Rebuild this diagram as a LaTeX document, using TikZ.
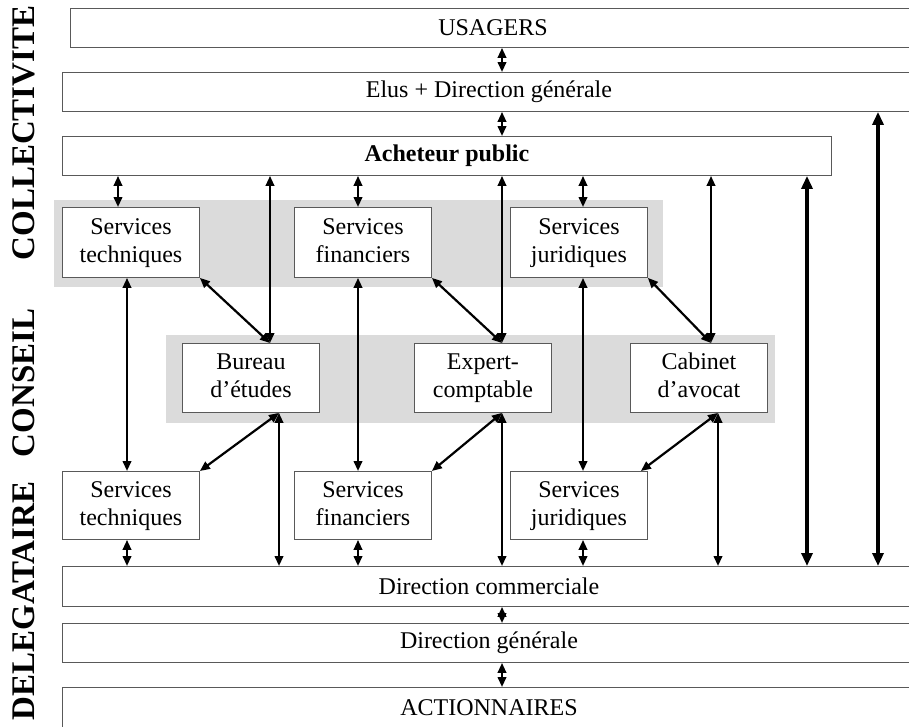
\documentclass[tikz,border=0pt]{standalone}
\usepackage{fontspec}
\setmainfont{Liberation Serif}
\usetikzlibrary{arrows.meta}
\newcommand{\twolines}[2]{\strut#1\\\strut#2}

\begin{document}
\begin{tikzpicture}[
  x=1pt, y=-1pt,
  band/.style={fill=black!14},
  bar/.style={rectangle, draw=black!65, line width=0.9pt, fill=white, anchor=north west, inner sep=0pt, text centered, font=\fontsize{24}{28}\selectfont},
  unit/.style={bar, align=center, minimum width=137pt},
  side/.style={rotate=90, inner sep=0pt, font=\fontsize{33}{33}\selectfont\bfseries},
  link/.style={line width=2.2pt, {Triangle[length=10pt,width=8.5pt]}-{Triangle[length=10pt,width=8.5pt]}},
  big/.style={line width=3.2pt, {Triangle[length=13pt,width=11pt]}-{Triangle[length=13pt,width=11pt]}}
]
  \useasboundingbox (0,0) rectangle (909,726);

  % grey bands
  \fill[band] (54,200) rectangle (663,287);
  \fill[band] (166,335) rectangle (775,423);

  % side titles
  \node[side] (lcoll) at (24,133) {COLLECTIVITE};
  \node[side] (lcons) at (24,383) {CONSEIL};
  \node[side] (ldele) at (24,601) {DELEGATAIRE};

  % full width bars
  \node[bar, minimum width=845pt, minimum height=39pt] (usagers) at (70,8) {USAGERS};
  \node[bar, minimum width=853pt, minimum height=39pt] (elus) at (62,72) {Elus + Direction générale};
  \node[bar, minimum width=769pt, minimum height=39pt] (acheteur) at (62,136) {\bfseries Acheteur public};
  \node[bar, minimum width=853pt, minimum height=40pt] (dircom) at (62,566) {Direction commerciale};
  \node[bar, minimum width=853pt, minimum height=39pt] (dirgen) at (62,623) {Direction générale};
  \node[bar, minimum width=853pt, minimum height=41pt] (action) at (62,687) {ACTIONNAIRES};

  % services and advisers
  \node[unit, minimum height=70pt] (st1) at (62,207) {\twolines{Services}{techniques}};
  \node[unit, minimum height=70pt] (sf1) at (294,207) {\twolines{Services}{financiers}};
  \node[unit, minimum height=70pt] (sj1) at (510,207) {\twolines{Services}{juridiques}};
  \node[unit, minimum height=69pt] (bureau) at (182,343) {\twolines{Bureau}{d’études}};
  \node[unit, minimum height=69pt] (expert) at (414,343) {\twolines{Expert-}{comptable}};
  \node[unit, minimum height=69pt] (cabinet) at (630,343) {\twolines{Cabinet}{d’avocat}};
  \node[unit, minimum height=68pt] (st2) at (62,471) {\twolines{Services}{techniques}};
  \node[unit, minimum height=68pt] (sf2) at (294,471) {\twolines{Services}{financiers}};
  \node[unit, minimum height=68pt] (sj2) at (510,471) {\twolines{Services}{juridiques}};

  % columns of the connectors
  \foreach \n/\x in {st/118, stv/127, be/270, bev/279, sf/358, mid/502, sj/583, ca/711, cav/718, ach/807, elu/878}
    \coordinate (x\n) at (\x,0);

  \draw[link] (xmid |- usagers.south) -- (xmid |- elus.north);
  \draw[link] (xmid |- elus.south) -- (xmid |- acheteur.north);
  \draw[link] (xst |- acheteur.south) -- (xst |- st1.north);
  \draw[link] (xbe |- acheteur.south) -- (xbe |- bureau.north);
  \draw[link] (xsf |- acheteur.south) -- (xsf |- sf1.north);
  \draw[link] (xmid |- acheteur.south) -- (xmid |- expert.north);
  \draw[link] (xsj |- acheteur.south) -- (xsj |- sj1.north);
  \draw[link] (xca |- acheteur.south) -- (xca |- cabinet.north);
  \draw[big] (xach |- acheteur.south) -- (xach |- dircom.north);
  \draw[big] (xelu |- elus.south) -- (xelu |- dircom.north);

  \draw[link] (st1.south east) -- (xbe |- bureau.north);
  \draw[link] (sf1.south east) -- (xmid |- expert.north);
  \draw[link] (sj1.south east) -- (xca |- cabinet.north);
  \draw[link] (xstv |- st1.south) -- (xstv |- st2.north);
  \draw[link] (xsf |- sf1.south) -- (xsf |- sf2.north);
  \draw[link] (xsj |- sj1.south) -- (xsj |- sj2.north);

  \draw[link] (xbev |- bureau.south) -- (st2.north east);
  \draw[link] (xmid |- expert.south) -- (sf2.north east);
  \draw[link] (xcav |- cabinet.south) -- ([xshift=-7pt]sj2.north east);
  \draw[link] (xbev |- bureau.south) -- (xbev |- dircom.north);
  \draw[link] (xmid |- expert.south) -- (xmid |- dircom.north);
  \draw[link] (xcav |- cabinet.south) -- (xcav |- dircom.north);

  \draw[link] (xstv |- st2.south) -- (xstv |- dircom.north);
  \draw[link] (xsf |- sf2.south) -- (xsf |- dircom.north);
  \draw[link] (xsj |- sj2.south) -- (xsj |- dircom.north);
  \draw[link] (xmid |- dircom.south) -- (xmid |- dirgen.north);
  \draw[link] (xmid |- dirgen.south) -- (xmid |- action.north);
\end{tikzpicture}
\end{document}
